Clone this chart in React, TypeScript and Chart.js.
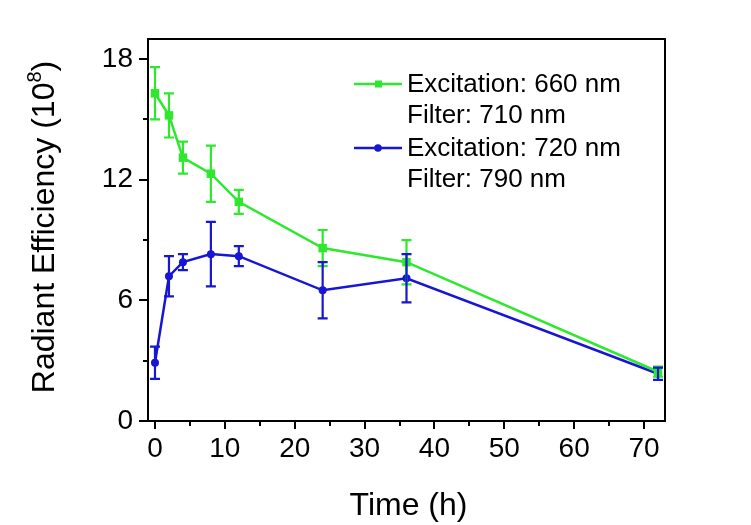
import React, { useEffect, useRef } from 'react';
import { Chart, registerables } from 'chart.js';

Chart.register(...registerables);

const hours = [0, 2, 4, 8, 12, 24, 36, 72];
const ex660 = [16.3, 15.2, 13.1, 12.3, 10.9, 8.6, 7.9, 2.45];
const ex660Err = [1.3, 1.1, 0.8, 1.4, 0.6, 0.9, 1.1, 0.25];
const ex720 = [2.9, 7.2, 7.9, 8.3, 8.2, 6.5, 7.1, 2.35];
const ex720Err = [0.8, 1.0, 0.4, 1.6, 0.5, 1.4, 1.2, 0.3];

const xMajorTicks = [0, 10, 20, 30, 40, 50, 60, 70];
const xMinorTicks = [5, 15, 25, 35, 45, 55, 65];
const yMajorTicks = [0, 6, 12, 18];
const yMinorTicks = [3, 9, 15];

const legend660 = ['Excitation: 660 nm', 'Filter: 710 nm'];
const legend720 = ['Excitation: 720 nm', 'Filter: 790 nm'];
const xTitle = 'Time (h)';
const yTitleMain = 'Radiant Efficiency (10';
const yTitleSup = '8';
const yTitleEnd = ')';

const GREEN = 'rgb(45,232,45)';
const BLUE = 'rgb(22,22,212)';
const FONT = "'Liberation Sans', Arial, sans-serif";

const errors = [ex660Err, ex720Err];

const decorPlugin = {
  id: 'decor',
  afterDatasetsDraw(chart: any) {
    const ctx = chart.ctx;
    const xs = chart.scales.x;
    const ys = chart.scales.y;
    ctx.save();
    chart.data.datasets.forEach((ds: any, di: number) => {
      ctx.strokeStyle = ds.borderColor;
      ctx.lineWidth = 2.2;
      ds.data.forEach((p: any, i: number) => {
        const e = errors[di][i];
        const px = xs.getPixelForValue(p.x);
        const top = ys.getPixelForValue(p.y + e);
        const bot = ys.getPixelForValue(p.y - e);
        ctx.beginPath();
        ctx.moveTo(px, top);
        ctx.lineTo(px, bot);
        ctx.moveTo(px - 5, top);
        ctx.lineTo(px + 5, top);
        ctx.moveTo(px - 5, bot);
        ctx.lineTo(px + 5, bot);
        ctx.stroke();
      });
    });
    ctx.restore();
  },
  afterDraw(chart: any) {
    const ctx = chart.ctx;
    const ca = chart.chartArea;
    const xs = chart.scales.x;
    const ys = chart.scales.y;
    ctx.save();
    ctx.strokeStyle = '#000';
    ctx.lineWidth = 2;
    // frame top & right
    ctx.beginPath();
    ctx.moveTo(ca.left, ca.top);
    ctx.lineTo(ca.right, ca.top);
    ctx.lineTo(ca.right, ca.bottom);
    ctx.stroke();
    // minor ticks
    ctx.beginPath();
    xMinorTicks.forEach((v) => {
      const px = Math.round(xs.getPixelForValue(v));
      ctx.moveTo(px, ca.bottom);
      ctx.lineTo(px, ca.bottom + 5);
    });
    yMinorTicks.forEach((v) => {
      const py = Math.round(ys.getPixelForValue(v));
      ctx.moveTo(ca.left, py);
      ctx.lineTo(ca.left - 5, py);
    });
    ctx.stroke();

    // axis titles
    ctx.fillStyle = '#000';
    ctx.font = `32px ${FONT}`;
    ctx.textAlign = 'center';
    ctx.textBaseline = 'alphabetic';
    ctx.fillText(xTitle, (ca.left + ca.right) / 2 + 2, 515);

    ctx.save();
    ctx.translate(54, 227);
    ctx.rotate(-Math.PI / 2);
    ctx.font = `32px ${FONT}`;
    const wMain = ctx.measureText(yTitleMain).width;
    ctx.font = `20px ${FONT}`;
    const wSup = ctx.measureText(yTitleSup).width;
    ctx.font = `32px ${FONT}`;
    const wEnd = ctx.measureText(yTitleEnd).width;
    const total = wMain + wSup + wEnd;
    let cx = -total / 2;
    ctx.textAlign = 'left';
    ctx.fillText(yTitleMain, cx, 0);
    cx += wMain;
    ctx.font = `20px ${FONT}`;
    ctx.fillText(yTitleSup, cx, -13);
    cx += wSup;
    ctx.font = `32px ${FONT}`;
    ctx.fillText(yTitleEnd, cx, 0);
    ctx.restore();

    // legend
    const entries = [
      { lines: legend660, color: GREEN, style: 'rect', y: 84 },
      { lines: legend720, color: BLUE, style: 'circle', y: 148 },
    ];
    ctx.font = `26px ${FONT}`;
    ctx.textAlign = 'left';
    ctx.textBaseline = 'middle';
    entries.forEach((en) => {
      ctx.strokeStyle = en.color;
      ctx.fillStyle = en.color;
      ctx.lineWidth = 2.5;
      ctx.beginPath();
      ctx.moveTo(354, en.y);
      ctx.lineTo(402, en.y);
      ctx.stroke();
      if (en.style === 'rect') {
        ctx.fillRect(375, en.y - 3.5, 7, 7);
      } else {
        ctx.beginPath();
        ctx.arc(378, en.y, 3.8, 0, Math.PI * 2);
        ctx.fill();
      }
      ctx.fillStyle = '#000';
      ctx.fillText(en.lines[0], 407, en.y + 1);
      ctx.fillText(en.lines[1], 407, en.y + 32);
    });
    ctx.restore();
  },
};

export default function App() {
  const ref = useRef<HTMLCanvasElement>(null);
  useEffect(() => {
    if (!ref.current) return;
    const chart = new Chart(ref.current, {
      type: 'line',
      data: {
        datasets: [
          {
            label: legend660.join(' '),
            data: hours.map((h, i) => ({ x: h, y: ex660[i] })),
            borderColor: GREEN,
            backgroundColor: GREEN,
            borderWidth: 2.5,
            pointStyle: 'rect',
            pointRadius: 6,
            pointBorderWidth: 0,
            tension: 0,
          },
          {
            label: legend720.join(' '),
            data: hours.map((h, i) => ({ x: h, y: ex720[i] })),
            borderColor: BLUE,
            backgroundColor: BLUE,
            borderWidth: 2.5,
            pointStyle: 'circle',
            pointRadius: 4,
            pointBorderWidth: 0,
            tension: 0,
          },
        ],
      },
      options: {
        animation: false,
        responsive: false,
        layout: { padding: { top: 39, right: 86, left: 0, bottom: 0 } },
        plugins: { legend: { display: false }, tooltip: { enabled: false } },
        scales: {
          x: {
            type: 'linear',
            min: -1,
            max: 73,
            afterBuildTicks: (s: any) => {
              s.ticks = xMajorTicks.map((v) => ({ value: v }));
            },
            afterFit: (s: any) => {
              s.height = 104;
            },
            grid: { drawOnChartArea: false, drawTicks: true, tickLength: 8, color: '#000', lineWidth: 2 },
            border: { display: true, color: '#000', width: 2 },
            ticks: { font: { family: FONT, size: 28 }, color: '#000', padding: 3, maxRotation: 0 },
          },
          y: {
            type: 'linear',
            min: 0,
            max: 19,
            afterBuildTicks: (s: any) => {
              s.ticks = yMajorTicks.map((v) => ({ value: v }));
            },
            afterFit: (s: any) => {
              s.width = 148;
            },
            grid: { drawOnChartArea: false, drawTicks: true, tickLength: 9, color: '#000', lineWidth: 2 },
            border: { display: true, color: '#000', width: 2 },
            ticks: { font: { family: FONT, size: 28 }, color: '#000', padding: 6 },
          },
        },
      },
      plugins: [decorPlugin],
    } as any);
    return () => chart.destroy();
  }, []);
  return (
    <div style={{ position: 'absolute', left: 0, top: 0, width: 751, height: 525, background: '#fff' }}>
      <canvas ref={ref} width={751} height={525} />
    </div>
  );
}
